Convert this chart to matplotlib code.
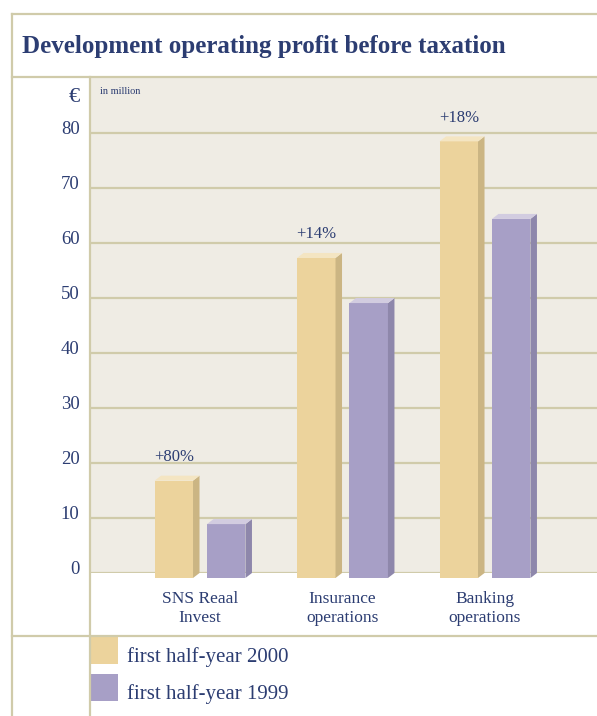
import numpy as np
import matplotlib.pyplot as plt
from matplotlib.patches import Rectangle, Polygon
from matplotlib.lines import Line2D
from matplotlib.transforms import ScaledTranslation

categories = ['SNS Reaal\nInvest', 'Insurance\noperations', 'Banking\noperations']
h2000 = [17.7, 58.2, 79.4]
h1999 = [9.8, 50.0, 65.3]
growth = ['+80%', '+14%', '+18%']
series = ['first half-year 2000', 'first half-year 1999']
yticks = [0, 10, 20, 30, 40, 50, 60, 70, 80]

navy = '#2c3d72'
rule = '#d0cbaa'
bg = '#efece4'
front = ['#ecd39c', '#a79fc6']
side = ['#cbb583', '#8e87ab']
top = ['#f4e5c2', '#d2cce0']

plt.rcParams['font.family'] = ['Liberation Serif', 'DejaVu Serif']

W, H = 597, 716
fig = plt.figure(figsize=(W / 100, H / 100), dpi=100)


def fx(x):
    return x / W


def fy(y):
    return 1 - y / H


# frame lines
for xs, ys in [((12, 12), (14, H)), ((12, W), (14, 14)), ((12, W), (77, 77)),
               ((90, 90), (77, H)), ((12, W), (636, 636))]:
    fig.add_artist(Line2D([fx(x) for x in xs], [fy(y) for y in ys], color=rule, lw=1.6))

fig.text(fx(22), fy(47), 'Development operating profit before taxation', color=navy,
         fontsize=18, fontweight='bold', va='center', ha='left')

ax = fig.add_axes([fx(90), fy(573), (W - 90) / W, (573 - 77) / H])
ax.set_facecolor(bg)
ax.set_ylim(0, 90.2)
ax.set_xlim(-0.772, 2.786)
for s in ax.spines.values():
    s.set_visible(False)
ax.set_yticks(yticks)
ax.set_yticklabels([str(t) for t in yticks])
ax.yaxis.grid(True, color=rule, lw=1.6)
ax.set_axisbelow(True)
ax.tick_params(axis='y', length=0, pad=7.5, labelsize=13.5, labelcolor=navy)
ax.set_xticks([])
up = ScaledTranslation(0, 6 / 100, fig.dpi_scale_trans)
for lab in ax.get_yticklabels():
    lab.set_transform(lab.get_transform() + up)

fig.text(fx(80), fy(97), '€', color=navy, fontsize=16, ha='right', va='center')
ax.text(0.02, 0.97, 'in million', transform=ax.transAxes, color=navy, fontsize=7.5, va='center')

# 3d-ish bars
x = np.arange(len(categories))
width = 0.27
offs = [-0.184, 0.184]
ddx = 6.5 / 142.5
ddy = 5 / 5.5
down = ax.transData + ScaledTranslation(0, -5 / 100, fig.dpi_scale_trans)
for i, vals in enumerate([h2000, h1999]):
    for xi, v in zip(x, vals):
        x0 = xi + offs[i] - width / 2
        x1 = x0 + width
        ax.add_patch(Rectangle((x0, 0), width, v, facecolor=front[i], lw=0,
                               transform=down, clip_on=False, zorder=3))
        ax.add_patch(Polygon([(x1, 0), (x1 + ddx, ddy), (x1 + ddx, v + ddy), (x1, v)],
                             facecolor=side[i], lw=0, transform=down, clip_on=False, zorder=3))
        ax.add_patch(Polygon([(x0, v), (x0 + ddx, v + ddy), (x1 + ddx, v + ddy), (x1, v)],
                             facecolor=top[i], lw=0, transform=down, clip_on=False, zorder=3))

for xi, v, g in zip(x, h2000, growth):
    ax.annotate(g, (xi + offs[0], v), xytext=(0, 13.5), textcoords='offset points',
                ha='center', va='center', color=navy, fontsize=12)

for xi, c in zip(x, categories):
    ax.annotate(c, (xi, 0), xytext=(0, -13), textcoords='offset points', ha='center',
                va='top', color=navy, fontsize=12.5, linespacing=1.28,
                annotation_clip=False)

# legend
for i, (lab, y0) in enumerate(zip(series, [637, 674])):
    fig.add_artist(Rectangle((fx(90), fy(y0 + 27)), 28 / W, 27 / H, facecolor=front[i], lw=0,
                             transform=fig.transFigure))
    fig.text(fx(127), fy(y0 + 20), lab, color=navy, fontsize=15, va='center', ha='left')

fig.savefig('out.png', dpi=100)
